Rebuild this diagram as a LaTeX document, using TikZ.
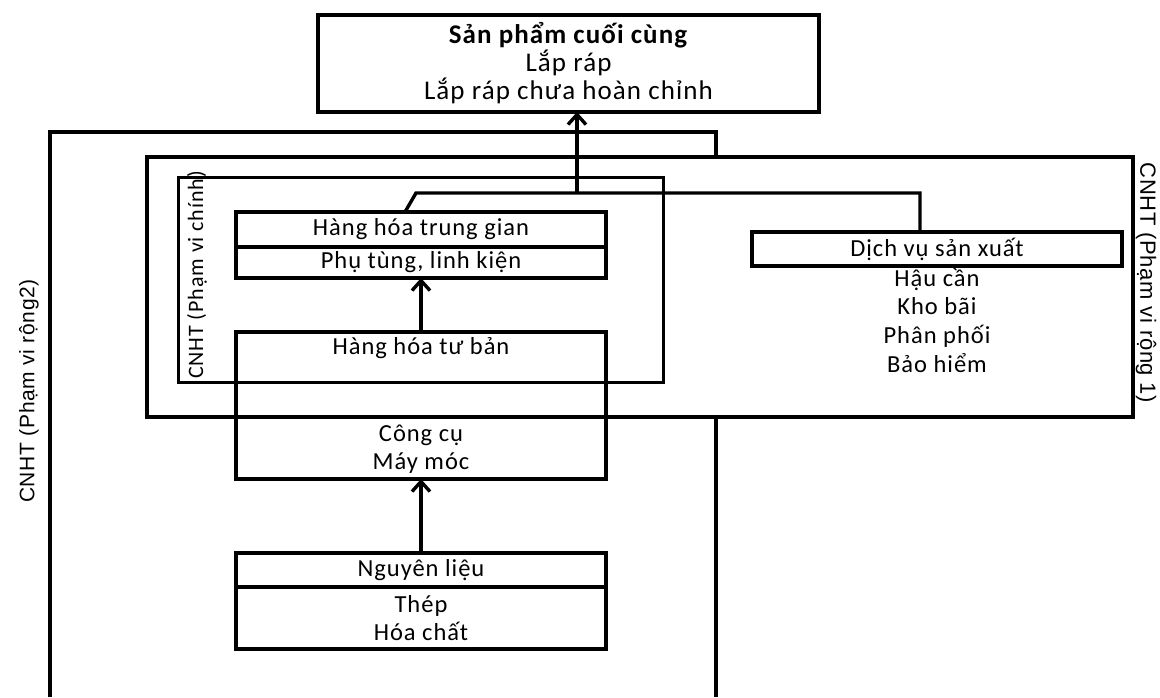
\documentclass[tikz,border=0pt]{standalone}
\usepackage{fontspec}
\usetikzlibrary{arrows.meta,calc}
\newfontfamily\carl[LetterSpace=4]{Carlito}
\newfontfamily\lib[LetterSpace=3]{Liberation Sans}
\tikzset{
 box/.style={draw, line width=3.2pt, inner sep=0pt, outer sep=0pt, anchor=north west},
 frame/.style={draw, line width=3.2pt},
 conn/.style={line width=3.4pt},
 tip/.style={-{Straight Barb[length=10pt,width=18pt,line width=3.4pt]}},
 txt/.style={font=\carl\fontsize{24.5}{28}\selectfont, text=black, inner sep=0pt, align=center},
 sidelab/.style={inner sep=0pt, text=black},
}
\begin{document}
\begin{tikzpicture}[x=1pt,y=-1pt]
\useasboundingbox (0,0) rectangle (1160,697);
% CNHT (Pham vi rong 2): open at the bottom
\coordinate (o1) at (50,697);
\coordinate (o2) at (50,132);
\coordinate (o3) at (716,132);
\coordinate (o4) at (716,697);
\draw[frame] (o1) -- (o2) -- (o3) -- (o4);
% CNHT (Pham vi rong 1)
\node[box, fill=white, minimum width=986pt, minimum height=260pt] (wide1) at (147,157) {};
% CNHT (Pham vi chinh)
\node[box, line width=3pt, minimum width=485pt, minimum height=205pt] (main) at (178,177) {};
% final product
\node[box, minimum width=501pt, minimum height=97pt, txt, font=\carl\fontsize{27}{28}\selectfont] (final) at (318,15)
 {\textbf{Sản phẩm cuối cùng}\\Lắp ráp\\Lắp ráp chưa hoàn chỉnh};
% intermediate goods
\node[box, txt, minimum width=370pt, minimum height=35pt] (trung) at (236,212) {Hàng hóa trung gian};
\node[box, txt, minimum width=370pt, minimum height=31pt] (phu) at (236,247) {Phụ tùng, linh kiện};
% capital goods
\node[box, minimum width=370pt, minimum height=147pt] (tuban) at (236,332) {};
\node[txt] (tbt) at (421,348) {Hàng hóa tư bản};
\node[txt] (cc) at (421,449) {Công cụ\\Máy móc};
% raw materials
\node[box, txt, minimum width=370pt, minimum height=34pt] (nguyen) at (236,553) {Nguyên liệu};
\node[box, txt, minimum width=370pt, minimum height=62pt] (thep) at (236,587) {Thép\\Hóa chất};
% production services
\node[box, txt, minimum width=370pt, minimum height=34pt] (dv) at (752,232) {Dịch vụ sản xuất};
\node[txt, font=\carl\fontsize{24.5}{28.7}\selectfont] (dvlist) at (937,320) {Hậu cần\\Kho bãi\\Phân phối\\Bảo hiểm};
% side labels
\node[sidelab, font=\lib\fontsize{21}{22}\selectfont, rotate=90] (l2) at (29,391) {CNHT (Phạm vi rộng2)};
\node[sidelab, font=\lib\fontsize{22}{22}\selectfont, rotate=-90] (l1) at (1146,283) {CNHT (Phạm vi rộng 1)};
\node[sidelab, font=\carl\fontsize{22}{22}\selectfont, rotate=90] (lm) at (197,275) {CNHT (Phạm vi chính)};
% connectors
\coordinate (start) at ($(trung.north west)+(169,0)$);
\coordinate (bend) at (416,193);
\coordinate (junc) at (577,193);
\coordinate (corner) at (920,193);
\draw[conn] (start) -- (bend) -- (corner) -- (corner |- dv.north);
\draw[conn,tip] (junc) -- (junc |- final.south);
\draw[conn,tip] (nguyen.north) -- (tuban.south);
\draw[conn,tip] (tuban.north) -- (phu.south);
\end{tikzpicture}
\end{document}
